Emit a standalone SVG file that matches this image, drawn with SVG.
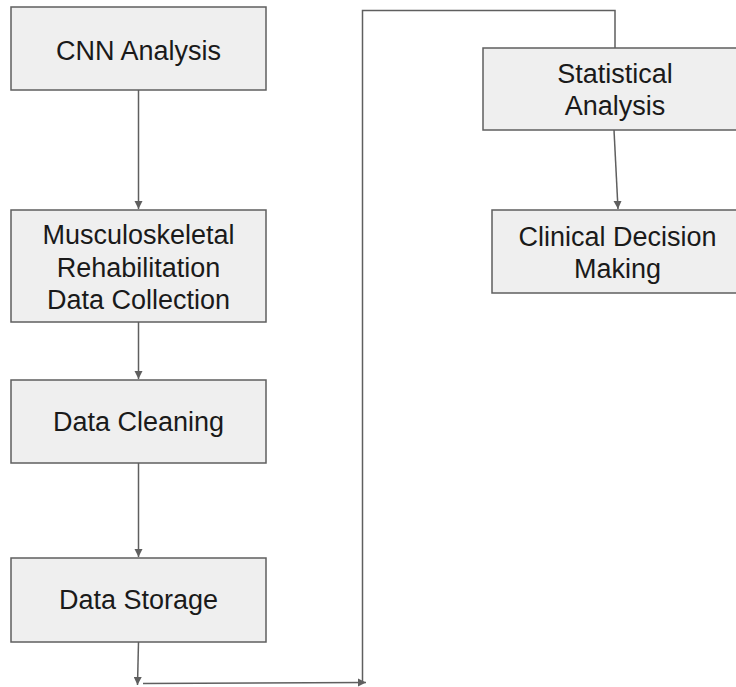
<svg xmlns="http://www.w3.org/2000/svg" width="736" height="687" viewBox="0 0 736 687">
  <style>
    .box { fill: #efefef; stroke: #5f5f5f; stroke-width: 1.5; }
    .lbl { font-family: "Liberation Sans", Arial, sans-serif; font-size: 27px; fill: #1a1a1a; text-anchor: middle; }
    .wire { fill: none; stroke: #5f5f5f; stroke-width: 1.5; }
  </style>
  <defs>
    <marker id="arrow" viewBox="0 0 10 10" refX="10" refY="5" markerWidth="5.5" markerHeight="5.5" orient="auto" markerUnits="strokeWidth">
      <path d="M0,0 L10,5 L0,10 Z" fill="#5f5f5f"/>
    </marker>
  </defs>
  <rect width="736" height="687" fill="#ffffff"/>

  <g id="connectors">
    <line class="wire" x1="138.5" y1="90" x2="138.5" y2="209" marker-end="url(#arrow)"/>
    <line class="wire" x1="138.5" y1="322" x2="138.5" y2="379" marker-end="url(#arrow)"/>
    <line class="wire" x1="138.5" y1="463" x2="138.5" y2="557" marker-end="url(#arrow)"/>
    <line class="wire" x1="138.5" y1="642" x2="137.5" y2="685" marker-end="url(#arrow)"/>
    <line class="wire" x1="143" y1="683.5" x2="366" y2="682.5" marker-end="url(#arrow)"/>
    <polyline class="wire" points="362.5,682.5 362.5,10.5 615,10.5 615,48"/>
    <line class="wire" x1="614" y1="130" x2="618" y2="209" marker-end="url(#arrow)"/>
  </g>

  <g id="cnn-analysis">
    <rect class="box" x="11" y="7" width="255" height="83"/>
    <text class="lbl" x="138.5" y="60">CNN Analysis</text>
  </g>

  <g id="data-collection">
    <rect class="box" x="11" y="210" width="255" height="112"/>
    <text class="lbl" x="138.5" y="244">Musculoskeletal</text>
    <text class="lbl" x="138.5" y="276.5">Rehabilitation</text>
    <text class="lbl" x="138.5" y="309">Data Collection</text>
  </g>

  <g id="data-cleaning">
    <rect class="box" x="11" y="380" width="255" height="83"/>
    <text class="lbl" x="138.5" y="431">Data Cleaning</text>
  </g>

  <g id="data-storage">
    <rect class="box" x="11" y="558" width="255" height="84"/>
    <text class="lbl" x="138.5" y="609">Data Storage</text>
  </g>

  <g id="statistical-analysis">
    <rect class="box" x="483" y="48" width="264" height="82"/>
    <text class="lbl" x="615" y="82.5">Statistical</text>
    <text class="lbl" x="615" y="115">Analysis</text>
  </g>

  <g id="clinical-decision">
    <rect class="box" x="492" y="210" width="252" height="83"/>
    <text class="lbl" x="617.5" y="245.5">Clinical Decision</text>
    <text class="lbl" x="617.5" y="278">Making</text>
  </g>
</svg>
